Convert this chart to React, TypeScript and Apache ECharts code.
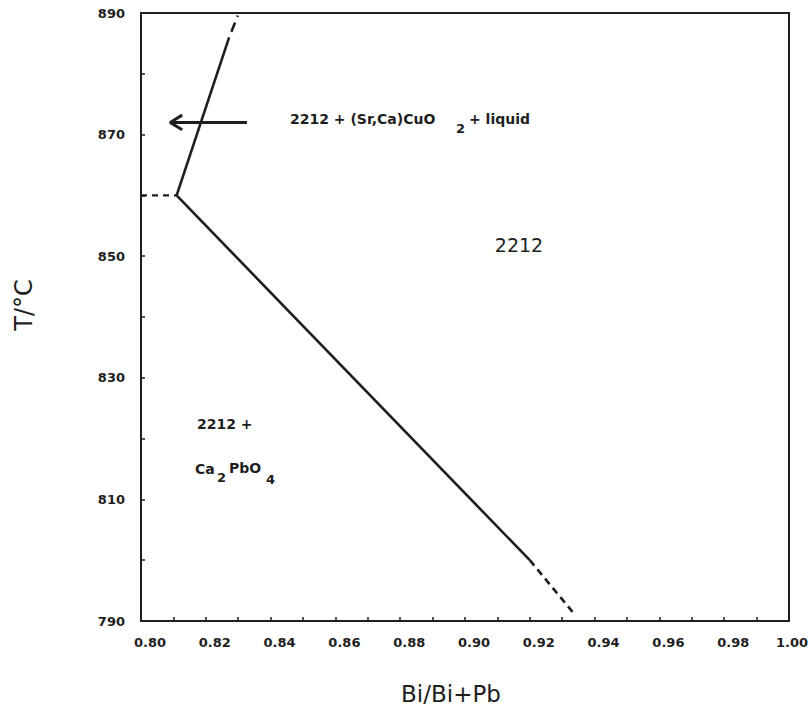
import React, { useEffect, useRef } from "react";
import * as echarts from "echarts";

// Phase boundaries (x = Bi/(Bi+Pb), y = T in °C)
const mainBoundary: [number, number][] = [
  [0.811, 860],
  [0.92, 800],
];
const mainBoundaryExtrapolated: [number, number][] = [
  [0.92, 800],
  [0.9335, 791.3],
];
const upperBoundary: [number, number][] = [
  [0.811, 860],
  [0.8272, 886],
];
const upperBoundaryExtrapolated: [number, number][] = [
  [0.8272, 886],
  [0.8299, 889.6],
];
const isotherm: [number, number][] = [
  [0.8, 860],
  [0.811, 860],
];
const arrowShaft: [number, number][] = [
  [0.8327, 872],
  [0.809, 872],
];
const arrowHead: [number, number][] = [
  [0.8127, 873.2],
  [0.809, 872],
  [0.8127, 870.8],
];

const xMin = 0.8;
const xMax = 1.0;
const xStep = 0.01;
const yMin = 790;
const yMax = 890;
const yStep = 10;

const INK = "#1e1e1e";
const FONT = "DejaVu Sans";

function lineSeries(
  data: [number, number][],
  dashed: number[] | null,
  width = 2.6,
  dashOffset = 0
) {
  return {
    type: "line",
    data,
    symbol: "none",
    silent: true,
    lineStyle: {
      color: INK,
      width,
      type: dashed ? dashed : "solid",
      dashOffset,
      cap: "butt",
    },
  };
}

function txt(text: string, x: number, y: number, size: number, weight: string, align = "left") {
  return {
    type: "text",
    x,
    y,
    silent: true,
    style: {
      text,
      fill: INK,
      font: `${weight} ${size}px "${FONT}"`,
      align,
      verticalAlign: "middle",
    },
  };
}

export default function App() {
  const ref = useRef<HTMLDivElement>(null);
  useEffect(() => {
    document.body.style.margin = "0";
    if (!ref.current) return;
    const chart = echarts.init(ref.current, undefined, { renderer: "svg" });
    chart.setOption({
      animation: false,
      backgroundColor: "#ffffff",
      grid: {
        left: 141,
        top: 13,
        right: 21,
        bottom: 86,
        containLabel: false,
        outerBoundsMode: "none",
        show: true,
        borderColor: INK,
        borderWidth: 2,
        backgroundColor: "transparent",
      },
      xAxis: {
        type: "value",
        min: xMin,
        max: xMax,
        interval: xStep,
        name: "Bi/Bi+Pb",
        nameLocation: "middle",
        nameGap: 61,
        nameTextStyle: {
          fontFamily: FONT,
          fontSize: 23,
          color: INK,
          padding: [0, 28, 0, 0],
        },
        axisLine: { show: true, lineStyle: { color: INK, width: 2 } },
        axisTick: { show: true, inside: true, length: 4, lineStyle: { color: INK, width: 1.5 } },
        splitLine: { show: false },
        axisLabel: {
          margin: 15,
          fontFamily: FONT,
          fontWeight: "bold",
          fontSize: 13,
          color: INK,
          padding: [0, 0, 0, 18],
          formatter: (v: number) => {
            if (Math.round(v * 100) % 2 !== 0) return "";
            const s = v.toFixed(2);
            return v >= xMax - 1e-9 ? `{e|${s}}` : s;
          },
          rich: {
            e: {
              fontFamily: FONT,
              fontWeight: "bold",
              fontSize: 13,
              color: INK,
              padding: [0, 12, 0, 0],
            },
          },
        },
      },
      yAxis: {
        type: "value",
        min: yMin,
        max: yMax,
        interval: yStep,
        name: "T/°C",
        nameLocation: "middle",
        nameGap: 105,
        nameTextStyle: {
          fontFamily: FONT,
          fontSize: 24,
          color: INK,
          padding: [0, 0, 0, 24],
        },
        axisLine: { show: true, lineStyle: { color: INK, width: 2 } },
        axisTick: { show: true, inside: true, length: 4, lineStyle: { color: INK, width: 1.5 } },
        splitLine: { show: false },
        axisLabel: {
          margin: 16,
          fontFamily: FONT,
          fontWeight: "bold",
          fontSize: 13,
          color: INK,
          padding: [12, 0, 0, 0],
          formatter: (v: number) => (Math.round(v - yMin) % 20 === 0 ? String(v) : ""),
        },
      },
      series: [
        lineSeries(mainBoundary, null),
        lineSeries(mainBoundaryExtrapolated, [7, 5]),
        lineSeries(upperBoundary, null),
        lineSeries(upperBoundaryExtrapolated, [10, 6], 2.6, 10),
        lineSeries(isotherm, [6, 5], 2.2),
        lineSeries(arrowShaft, null, 3),
        lineSeries(arrowHead, null, 3),
      ],
      graphic: [
        txt("2212 + (Sr,Ca)CuO", 290, 119, 14, "bold"),
        txt("2", 456, 128, 13, "bold"),
        txt("+ liquid", 469, 119, 14, "bold"),
        txt("2212", 519, 245, 19, "normal", "center"),
        txt("2212 +", 197, 424, 14, "bold"),
        txt("Ca", 195, 469, 14, "bold"),
        txt("2", 217, 477, 13, "bold"),
        txt("PbO", 229, 468, 14, "bold"),
        txt("4", 266, 479, 13, "bold"),
      ],
    });
    return () => chart.dispose();
  }, []);
  return (
    <div
      ref={ref}
      style={{ position: "fixed", left: 0, top: 0, width: 810, height: 707 }}
    />
  );
}
